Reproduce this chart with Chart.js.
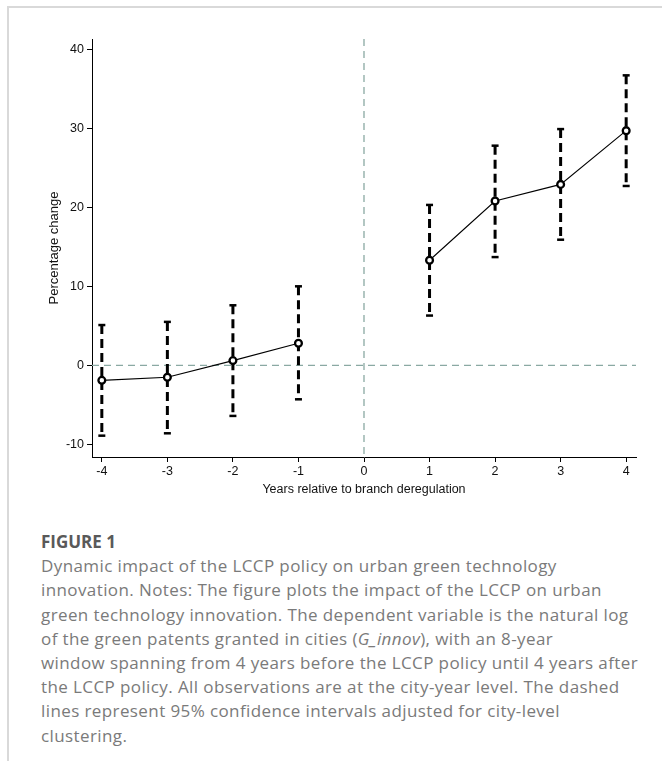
<!DOCTYPE html>
<html>
<head>
<meta charset="utf-8">
<script src="https://cdn.jsdelivr.net/npm/chart.js@4.4.0/dist/chart.umd.min.js"></script>
<style>
  html, body { margin: 0; padding: 0; background: #fff; }
  body { width: 662px; height: 761px; position: relative; overflow: hidden; }
  #frameTop { position: absolute; left: 7px; top: 6px; width: 655px; height: 2px; background: #d9d9d9; }
  #frameLeft { position: absolute; left: 7px; top: 6px; width: 2px; height: 755px; background: #d9d9d9; }
  #wrap { position: absolute; left: 0; top: 0; width: 662px; height: 500px; }
  #caption { position: absolute; left: 41px; top: 530px; width: 621px; font-family: "Open Sans", "DejaVu Sans", sans-serif; color: #7a7a7a; font-size: 17px; letter-spacing: 0.4px; line-height: 24.2px; white-space: nowrap; }
  #caption .fig { font-weight: bold; color: #595959; font-size: 17px; letter-spacing: 0; }
</style>
</head>
<body>
<div id="frameTop"></div>
<div id="frameLeft"></div>
<div id="wrap"><canvas id="c" width="662" height="500"></canvas></div>
<div id="caption">
  <div class="fig">FIGURE 1</div>
  <div>Dynamic impact of the LCCP policy on urban green technology<br>innovation. Notes: The figure plots the impact of the LCCP on urban<br>green technology innovation. The dependent variable is the natural log<br>of the green patents granted in cities (<i>G_innov</i>), with an 8-year<br>window spanning from 4 years before the LCCP policy until 4 years after<br>the LCCP policy. All observations are at the city-year level. The dashed<br>lines represent 95% confidence intervals adjusted for city-level<br>clustering.</div>
</div>
<script>
// ---- data ----
const years = [-4, -3, -2, -1, 1, 2, 3, 4];
const estimates = [-1.9, -1.5, 0.6, 2.8, 13.3, 20.8, 22.9, 29.7];
const ciLower = [-8.9, -8.6, -6.4, -4.3, 6.3, 13.7, 15.9, 22.7];
const ciUpper = [5.1, 5.5, 7.6, 10.0, 20.3, 27.8, 29.9, 36.7];
const xTicks = [-4, -3, -2, -1, 0, 1, 2, 3, 4];
const yTicks = [-10, 0, 10, 20, 30, 40];
const eventYear = 0;
const baseline = 0;

// line points with a gap at the event year
const linePoints = [];
years.forEach((yr, i) => {
  if (i > 0 && years[i - 1] < eventYear && yr > eventYear) linePoints.push({ x: eventYear, y: null });
  linePoints.push({ x: yr, y: estimates[i] });
});

const ciDatasets = years.map((yr, i) => ({
  type: 'line',
  data: [{ x: yr, y: ciUpper[i] }, { x: yr, y: ciLower[i] }],
  borderColor: '#000',
  borderWidth: 3,
  borderDash: [9, 5],
  pointStyle: 'line',
  pointRadius: 3.5,
  pointBorderWidth: 2.5,
  pointBorderColor: '#000',
  pointHoverRadius: 3.5,
  order: 2
}));

const refLines = {
  id: 'refLines',
  beforeDatasetsDraw(chart) {
    const { ctx, chartArea, scales: { x, y } } = chart;
    ctx.save();
    ctx.strokeStyle = '#8aa9a3';
    ctx.lineWidth = 1.3;
    ctx.setLineDash([7, 5]);
    const py = y.getPixelForValue(baseline);
    ctx.beginPath(); ctx.moveTo(chartArea.left, py); ctx.lineTo(chartArea.right, py); ctx.stroke();
    const px = x.getPixelForValue(eventYear);
    ctx.beginPath(); ctx.moveTo(px, chartArea.top); ctx.lineTo(px, chartArea.bottom); ctx.stroke();
    ctx.restore();
  }
};

const tickFont = { family: '"Liberation Sans", Arial, sans-serif', size: 12.5 };
const titleFont = { family: '"Liberation Sans", Arial, sans-serif', size: 13 };

new Chart(document.getElementById('c'), {
  type: 'line',
  data: {
    datasets: [
      {
        data: linePoints,
        borderColor: '#000',
        borderWidth: 1.1,
        spanGaps: false,
        pointStyle: 'circle',
        pointRadius: 3.4,
        pointBorderWidth: 2.3,
        pointBorderColor: '#000',
        pointBackgroundColor: '#fff',
        order: 1
      },
      ...ciDatasets
    ]
  },
  options: {
    responsive: false,
    animation: false,
    events: [],
    layout: { padding: { left: 0, top: 39, right: 26, bottom: 0 } },
    plugins: { legend: { display: false }, tooltip: { enabled: false } },
    scales: {
      x: {
        type: 'linear',
        min: -4.15,
        max: 4.15,
        afterBuildTicks: s => { s.ticks = xTicks.map(v => ({ value: v })); },
        afterFit: s => { s.height = 43; },
        ticks: { color: '#111', font: tickFont, padding: 2, callback: v => String(v) },
        grid: { drawOnChartArea: false, drawTicks: true, tickLength: 5, color: '#000' },
        border: { display: true, color: '#000', width: 1 },
        title: { display: true, text: 'Years relative to branch deregulation', color: '#111', font: tickFont, padding: { top: 0, bottom: 3 } }
      },
      y: {
        type: 'linear',
        min: -11.6,
        max: 41.3,
        afterBuildTicks: s => { s.ticks = yTicks.map(v => ({ value: v })); },
        afterFit: s => { s.width = 92; },
        ticks: { color: '#111', font: tickFont, padding: 3, callback: v => String(v) },
        grid: { drawOnChartArea: false, drawTicks: true, tickLength: 5, color: '#000' },
        border: { display: true, color: '#000', width: 1 },
        title: { display: true, text: 'Percentage change', color: '#111', font: titleFont, padding: { top: 47, bottom: 0 } }
      }
    }
  },
  plugins: [refLines]
});
</script>
</body>
</html>
